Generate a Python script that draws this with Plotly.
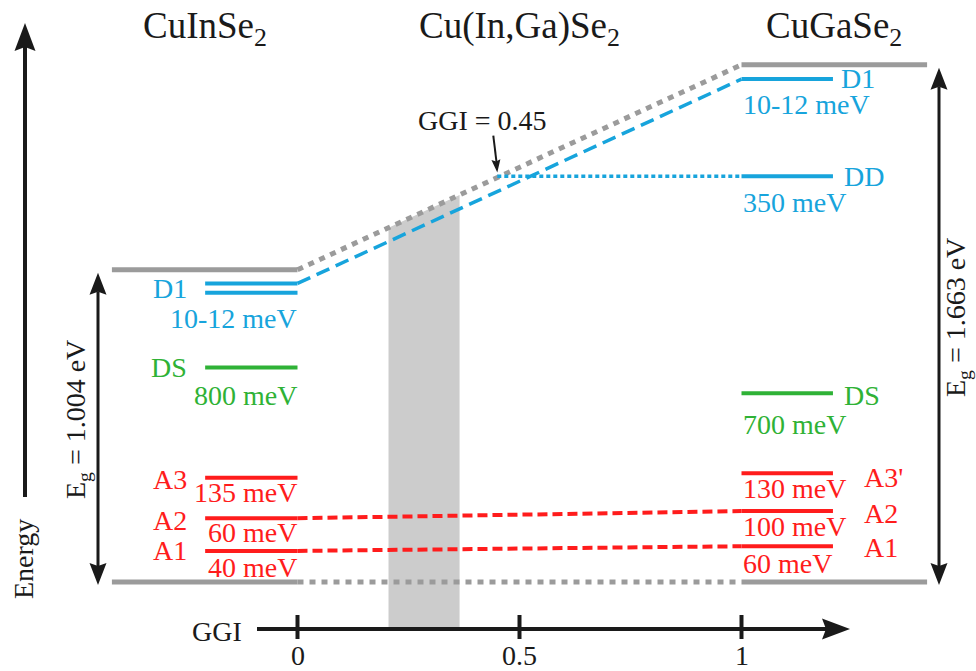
import plotly.graph_objects as go

# ---- band-edge and defect-level data -------------------------------------
ggi_ticks = [0, 0.5, 1]
ggi_tick_labels = ["0", "0.5", "1"]

eg_cis = 1.004          # band gap of CuInSe2 (eV)
eg_cgs = 1.663          # band gap of CuGaSe2 (eV)
ggi_dd_onset = 0.45     # GGI where the DD level leaves the conduction band
ggi_window = [0.205, 0.365]   # shaded composition window

# schematic level heights above the valence band (eV scale of the diagram)
cis_names = ["D1", "DS", "A3", "A2", "A1"]
cis_levels = [0.96, 0.69, 0.335, 0.205, 0.10]
cis_d1_second = 0.93
cis_activation = ["10-12 meV", "800 meV", "135 meV", "60 meV", "40 meV"]

cgs_names = ["D1", "DD", "DS", "A3'", "A2", "A1"]
cgs_levels = [1.617, 1.305, 0.607, 0.35, 0.228, 0.115]
cgs_activation = ["10-12 meV", "350 meV", "700 meV", "130 meV", "100 meV", "60 meV"]

compounds = ["CuInSe<sub>2</sub>", "Cu(In,Ga)Se<sub>2</sub>", "CuGaSe<sub>2</sub>"]

# ---- drawing geometry -------------------------------------------------------
W, H = 976, 671
X0, PX_X = 297.5, 444.0     # pixel of GGI = 0, pixels per GGI unit
Y0, PX_Y = 582.0, 311.0     # pixel of E = 0, pixels per eV


def dx(px):
    return px / PX_X


def dy(px):
    return px / PX_Y


def x_at(px):
    return (px - X0) / PX_X


def y_at(py):
    return (Y0 - py) / PX_Y


def cb(g):
    return eg_cis + g * (eg_cgs - eg_cis)


GRAY = "#9b9b9b"
BLUE = "#17a4dc"
GREEN = "#2fb236"
RED = "#ff1c1c"
BLACK = "#1a1a1a"
SHADE = "#cccccc"
FONT = "Liberation Serif, serif"
LABEL_SIZE = 28
TITLE_SIZE = 37

cis_left, band_left = -0.208, -0.418
cgs_right, band_right = 1.206, 1.418

fig = go.Figure()


def line(xs, ys, color, width, dash="solid"):
    fig.add_trace(go.Scatter(x=xs, y=ys, mode="lines",
                             line=dict(color=color, width=width, dash=dash),
                             hoverinfo="skip", showlegend=False))


def head(xt, yt, ux, uy, length, width, notch):
    """Filled stealth arrow head with its tip at (xt, yt); (ux, uy) is the
    pointing direction in screen pixels (y up)."""
    bx, by = -ux * length, -uy * length
    nx, ny = -uy, ux
    pts = [(0, 0),
           (bx + nx * width / 2, by + ny * width / 2),
           (bx + ux * notch, by + uy * notch),
           (bx - nx * width / 2, by - ny * width / 2),
           (0, 0)]
    fig.add_trace(go.Scatter(x=[xt + dx(p[0]) for p in pts],
                             y=[yt + dy(p[1]) for p in pts],
                             mode="lines", fill="toself", fillcolor=BLACK,
                             line=dict(width=0, color=BLACK),
                             hoverinfo="skip", showlegend=False))


axis_y = y_at(629)

# shaded composition window, topped by the conduction band
g0, g1 = ggi_window
fig.add_trace(go.Scatter(x=[g0, g0, g1, g1, g0],
                         y=[axis_y, cb(g0), cb(g1), axis_y, axis_y],
                         mode="lines", fill="toself", fillcolor=SHADE,
                         line=dict(width=0, color=SHADE),
                         hoverinfo="skip", showlegend=False))

# band edges
line([band_left, 0], [eg_cis, eg_cis], GRAY, 5)
line([0, 1], [eg_cis, eg_cgs], GRAY, 5, "6px,6px")
line([1, band_right], [eg_cgs, eg_cgs], GRAY, 5)
line([band_left, 0], [0, 0], GRAY, 5)
line([0, 1], [0, 0], GRAY, 5, "6px,6px")
line([1, band_right], [0, 0], GRAY, 5)

# CuInSe2 levels
level_colors_cis = [BLUE, GREEN, RED, RED, RED]
for lvl, col in zip(cis_levels, level_colors_cis):
    line([cis_left, 0], [lvl, lvl], col, 4)
line([cis_left, 0], [cis_d1_second, cis_d1_second], BLUE, 4)

# CuGaSe2 levels
level_colors_cgs = [BLUE, BLUE, GREEN, RED, RED, RED]
for lvl, col in zip(cgs_levels, level_colors_cgs):
    line([1, cgs_right], [lvl, lvl], col, 4)

# trends across the alloy
line([0, 1], [cis_levels[0], cgs_levels[0]], BLUE, 3.5, "14px,7px")
line([ggi_dd_onset, 1], [cgs_levels[1], cgs_levels[1]], BLUE, 3.5, "4px,3px")
line([0, 1], [cis_levels[3], cgs_levels[4]], RED, 4, "10px,5px")
line([0, 1], [cis_levels[4], cgs_levels[5]], RED, 4, "10px,5px")

# GGI axis with ticks
gx_start, gx_tip = x_at(257), x_at(850)
line([gx_start, gx_tip - dx(24)], [axis_y, axis_y], BLACK, 4)
head(gx_tip, axis_y, 1, 0, 28, 21, 4)
for t in ggi_ticks:
    line([t, t], [y_at(615), y_at(639)], BLACK, 4)

# energy axis
ex = x_at(25)
line([ex, ex], [y_at(497), y_at(47)], BLACK, 4)
head(ex, y_at(23), 0, 1, 28, 21, 4)

# band-gap double arrows
for px_x, top, bottom in [(98, eg_cis, 0), (939, eg_cgs, 0)]:
    xx = x_at(px_x)
    t_tip = top - dy(3)
    b_tip = bottom - dy(3)
    line([xx, xx], [b_tip + dy(19), t_tip - dy(19)], BLACK, 3)
    head(xx, t_tip, 0, 1, 22, 17, 3)
    head(xx, b_tip, 0, -1, 22, 17, 3)

# pointer to the DD onset
tip_y = cb(ggi_dd_onset) + dy(5)
line([ggi_dd_onset - dx(4), ggi_dd_onset - dx(0.6)], [tip_y + dy(37), tip_y + dy(9)], BLACK, 2)
head(ggi_dd_onset, tip_y, 0.107, -0.994, 13, 9, 2)

# ---- text -----------------------------------------------------------------
ann = []


def text(x, y, s, color=BLACK, size=LABEL_SIZE, xanchor="center", yanchor="middle", angle=0):
    ann.append(dict(x=x, y=y, xref="x", yref="y", text=s, showarrow=False,
                    xanchor=xanchor, yanchor=yanchor, textangle=angle,
                    borderpad=0,
                    font=dict(family=FONT, size=size, color=color)))


title_y = y_at(28)
for cx, name in zip([(band_left + 0) / 2, 0.5, (1 + band_right) / 2], compounds):
    text(cx, title_y, name, size=TITLE_SIZE)

# CuInSe2 labels
name_x = cis_left - dx(17)
cis_name_y = [(cis_levels[0] + cis_d1_second) / 2, cis_levels[1],
              cis_levels[2] - dy(2), cis_levels[3] - dy(2), cis_levels[4]]
cis_value_drop = [dy(35), dy(28), dy(15), dy(14), dy(17)]
for nm, ny, col in zip(cis_names, cis_name_y, level_colors_cis):
    text(name_x, ny, nm, color=col, xanchor="right")
for val, lvl, drop, col in zip(cis_activation, cis_levels, cis_value_drop, level_colors_cis):
    text(0, lvl - drop, val, color=col, xanchor="right")

# CuGaSe2 labels
cgs_name_x = [cgs_right + dx(7), cgs_right + dx(10), cgs_right + dx(10),
              cgs_right + dx(30), cgs_right + dx(30), cgs_right + dx(30)]
cgs_name_shift = [dy(-1), 0, dy(2), dy(4), dy(2), dy(1)]
cgs_value_drop = [dy(25), dy(26), dy(31), dy(15), dy(15), dy(17)]
for nm, lvl, nx, sh, col in zip(cgs_names, cgs_levels, cgs_name_x, cgs_name_shift, level_colors_cgs):
    text(nx, lvl - sh, nm, color=col, xanchor="left")
for val, lvl, drop, col in zip(cgs_activation, cgs_levels, cgs_value_drop, level_colors_cgs):
    text(1, lvl - drop, val, color=col, xanchor="left")

# annotations around the axes
text(x_at(482), y_at(120), "GGI = %.2f" % ggi_dd_onset)
text(x_at(243), y_at(631), "GGI", xanchor="right")
for t, lab in zip(ggi_ticks, ggi_tick_labels):
    text(t, y_at(655), lab)
text(x_at(23), y_at(559), "Energy", angle=-90)
text(x_at(77), y_at(420), "E<sub>g</sub> = %.3f eV" % eg_cis, angle=-90)
text(x_at(957), y_at(318), "E<sub>g</sub> = %.3f eV" % eg_cgs, angle=-90)

fig.update_layout(
    width=W, height=H, autosize=False,
    margin=dict(l=0, r=0, t=0, b=0, pad=0),
    paper_bgcolor="white", plot_bgcolor="white",
    xaxis=dict(range=[x_at(0), x_at(W)], visible=False, fixedrange=True),
    yaxis=dict(range=[y_at(H), y_at(0)], visible=False, fixedrange=True),
    annotations=ann,
    showlegend=False,
)

fig.write_html("out.html")
